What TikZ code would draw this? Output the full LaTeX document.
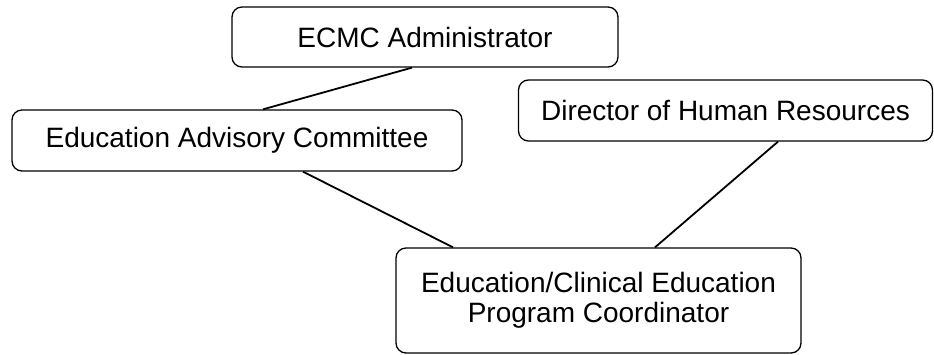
\documentclass[tikz,border=0pt]{standalone}
\usepackage{fontspec}
\setmainfont{Liberation Sans}
\usetikzlibrary{calc}

\begin{document}
\begin{tikzpicture}[
    x=1pt, y=-1pt,
    role/.style={draw, line width=1.3pt, rounded corners=10pt, inner sep=0pt,
                 align=center, font=\fontsize{28}{30}\selectfont},
    link/.style={line width=1.8pt}
]
\useasboundingbox (0,0) rectangle (934,355);
% boxes of the chart
\node[role, minimum width=386pt, minimum height=60pt] (admin) at (425,37) {ECMC Administrator};
\node[role, minimum width=450pt, minimum height=61pt] (advisory) at (237,140.5) {Education Advisory Committee};
\node[role, minimum width=414pt, minimum height=61pt] (hr) at (725.5,110.5) {Director of Human Resources};
\node[role, minimum width=405pt, minimum height=105pt] (coord) at (598.5,300.5)
    {Education/Clinical Education\\Program Coordinator};
% reporting lines
\draw[link] ($(admin.south)+(-13,0)$) -- ($(advisory.north)+(26,0)$);
\draw[link] ($(advisory.south)+(66,0)$) -- ($(coord.north)+(-145.5,0)$);
\draw[link] ($(hr.south)+(52.5,0)$) -- ($(coord.north)+(56.5,0)$);
\end{tikzpicture}
\end{document}
